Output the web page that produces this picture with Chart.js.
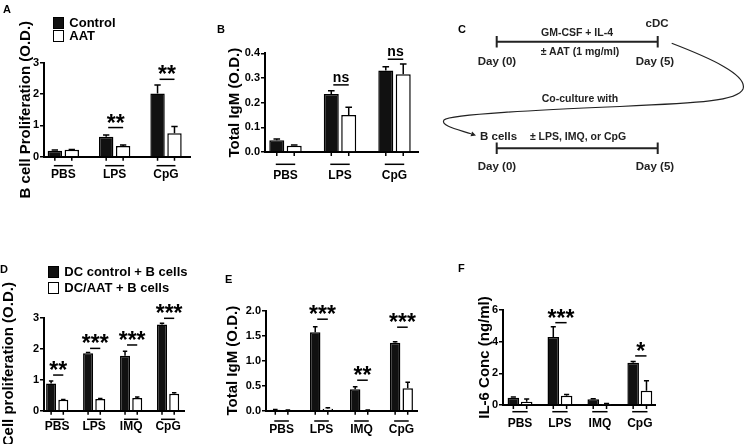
<!DOCTYPE html>
<html>
<head>
<meta charset="utf-8">
<script src="https://cdn.jsdelivr.net/npm/chart.js@4.4.1/dist/chart.umd.min.js"></script>
<style>
  body { margin: 0; background: #fff; }
  #page { position: relative; width: 746px; height: 444px; overflow: hidden; font-family: Arial, 'Liberation Sans', sans-serif; }
  canvas, svg { position: absolute; }
  .key { position: absolute; font-weight: bold; font-size: 13px; line-height: 14px; color: #000; white-space: nowrap; }
  .box { position: absolute; width: 11px; height: 12px; box-sizing: border-box; border: 1.5px solid #000; }
</style>
</head>
<body>
<div id="page">
  <canvas id="chartA" width="215" height="200" style="left:0;top:0"></canvas>
  <canvas id="chartB" width="215" height="200" style="left:215px;top:0"></canvas>
  <canvas id="chartD" width="215" height="189" style="left:0;top:255px"></canvas>
  <canvas id="chartE" width="225" height="189" style="left:215px;top:255px"></canvas>
  <canvas id="chartF" width="301" height="189" style="left:445px;top:255px"></canvas>

  <svg width="746" height="444" style="left:0;top:0" font-family="Arial, 'Liberation Sans', sans-serif" font-weight="bold">
    <g fill="#000" font-size="11" dominant-baseline="central">
      <text x="3" y="9">A</text>
      <text x="217" y="29">B</text>
      <text x="458" y="29">C</text>
      <text x="0" y="269">D</text>
      <text x="225" y="279">E</text>
      <text x="458" y="268">F</text>
    </g>
    <!-- panel C: protocol sketch -->
    <g stroke="#222" stroke-width="2" fill="none">
      <path d="M496.7,41.7 H657.7 M496.7,36 V47.5 M657.7,36 V47.5"/>
      <path d="M496.7,148.3 H657.7 M496.7,142.5 V154 M657.7,142.5 V154"/>
      <path stroke-width="1.2" d="M671.7,43.3 C710,58 748,75 743,89 C738,101 700,103 620,106.5 C540,110 450,114 444,120 C440,126 460,130 471,133.8"/>
    </g>
    <path d="M476,135.5 L472.1,131.5 L470.5,136.3 Z" fill="#222"/>
    <g fill="#222" text-anchor="middle" dominant-baseline="central">
      <text x="577" y="31.7" font-size="10.5">GM-CSF + IL-4</text>
      <text x="580" y="50.7" font-size="10.5">± AAT (1 mg/ml)</text>
      <text x="657" y="23.3" font-size="11.5">cDC</text>
      <text x="497" y="61" font-size="11.5">Day (0)</text>
      <text x="655" y="61" font-size="11.5">Day (5)</text>
      <text x="580" y="98.3" font-size="10.5">Co-culture with</text>
      <text x="578" y="136" font-size="10.5">± LPS, IMQ, or CpG</text>
      <text x="497" y="165.7" font-size="11.5">Day (0)</text>
      <text x="655" y="165.7" font-size="11.5">Day (5)</text>
      <text x="480" y="136" font-size="11.5" text-anchor="start">B cells</text>
    </g>
  </svg>
</div>

<script>
// ---- data ----
const groupsA = ['PBS', 'LPS', 'CpG'];
const seriesA = ['Control', 'AAT'];
const controlA = [0.19, 0.64, 2.02];
const controlErrA = [0.02, 0.05, 0.27];
const aatA = [0.22, 0.34, 0.75];
const aatErrA = [0.01, 0.03, 0.21];
const starsA = ['', '**', '**'];
const starAtA = [null, 0.93, 2.47];

const groupsB = ['PBS', 'LPS', 'CpG'];
const controlB = [0.048, 0.235, 0.33];
const controlErrB = [0.005, 0.013, 0.015];
const aatB = [0.025, 0.15, 0.315];
const aatErrB = [0.003, 0.031, 0.042];
const starsB = ['', 'ns', 'ns'];
const starAtB = [null, 0.272, 0.376];

const groupsD = ['PBS', 'LPS', 'IMQ', 'CpG'];
const seriesD = ['DC control + B cells', 'DC/AAT + B cells'];
const controlD = [0.88, 1.85, 1.77, 2.78];
const controlErrD = [0.08, 0.03, 0.15, 0.04];
const aatD = [0.35, 0.38, 0.41, 0.55];
const aatErrD = [0.01, 0.01, 0.03, 0.03];
const starsD = ['**', '***', '***', '***'];
const starAtD = [1.15, 2.01, 2.12, 2.98];

const groupsE = ['PBS', 'LPS', 'IMQ', 'CpG'];
const controlE = [0.02, 1.57, 0.43, 1.36];
const controlErrE = [0.005, 0.11, 0.05, 0.02];
const aatE = [0.01, 0.04, 0.01, 0.45];
const aatErrE = [0.003, 0.02, 0.003, 0.12];
const starsE = ['', '***', '**', '***'];
const starAtE = [null, 1.83, 0.61, 1.67];

const groupsF = ['PBS', 'LPS', 'IMQ', 'CpG'];
const controlF = [0.46, 4.3, 0.36, 2.67];
const controlErrF = [0.05, 0.65, 0.04, 0.08];
const aatF = [0.21, 0.59, 0.07, 0.9];
const aatErrF = [0.17, 0.07, 0.02, 0.63];
const starsF = ['', '***', '', '*'];
const starAtF = [null, 5.2, null, 3.1];

const FONT = "Arial, 'Liberation Sans', sans-serif";

// error bars, tick marks under bars, group underlines and significance bars
const marks = {
  id: 'marks',
  afterDatasetsDraw(chart, args, o) {
    const ctx = chart.ctx;
    const ys = chart.scales.y;
    const m0 = chart.getDatasetMeta(0).data;
    const m1 = chart.getDatasetMeta(1).data;
    ctx.save();
    ctx.strokeStyle = '#000';
    ctx.fillStyle = '#000';
    ctx.lineWidth = 1.5;
    chart.data.datasets.forEach((ds, d) => {
      chart.getDatasetMeta(d).data.forEach((bar, i) => {
        const top = ys.getPixelForValue(ds.data[i] + o.errors[d][i]);
        const cap = bar.width * 0.22;
        ctx.beginPath();
        ctx.moveTo(bar.x, bar.y);
        ctx.lineTo(bar.x, top);
        ctx.moveTo(bar.x - cap, top);
        ctx.lineTo(bar.x + cap, top);
        ctx.moveTo(bar.x, ys.bottom);
        ctx.lineTo(bar.x, ys.bottom + 4);
        ctx.stroke();
      });
    });
    ctx.textAlign = 'center';
    ctx.textBaseline = 'alphabetic';
    m0.forEach((bar, i) => {
      const a = bar.x, b = m1[i].x;
      const uy = ys.bottom + o.under;
      ctx.beginPath();
      ctx.moveTo(a - 1, uy);
      ctx.lineTo(b + 1, uy);
      ctx.stroke();
      if (!o.stars[i]) return;
      const sy = ys.getPixelForValue(o.starAt[i]);
      ctx.beginPath();
      ctx.moveTo(a + 2, sy);
      ctx.lineTo(b, sy);
      ctx.stroke();
      const ns = o.stars[i] === 'ns';
      ctx.font = ns ? `bold 14px ${FONT}` : `bold 23px ${FONT}`;
      ctx.fillText(o.stars[i], (a + b) / 2 + 1, ns ? sy - 3 : sy + 3);
    });
    ctx.restore();
  }
};

function barChart(id, p, box) {
  const canvas = document.getElementById(id);
  return new Chart(canvas, {
    type: 'bar',
    data: {
      labels: p.groups.map((g, i) => i),
      datasets: [
        { label: p.series ? p.series[0] : '', data: p.control, backgroundColor: '#111', borderColor: '#000',
          borderWidth: 1.5, categoryPercentage: box.catPct, barPercentage: box.barPct },
        { label: p.series ? p.series[1] : '', data: p.aat, backgroundColor: '#fff', borderColor: '#000',
          borderWidth: 1.5, categoryPercentage: box.catPct, barPercentage: box.barPct }
      ]
    },
    options: {
      responsive: false,
      animation: false,
      devicePixelRatio: 1,
      layout: { padding: { left: box.padLeft, top: box.T, right: canvas.width - box.R, bottom: 0 } },
      plugins: {
        legend: { display: false },
        tooltip: { enabled: false },
        marks: { errors: [p.controlErr, p.aatErr], stars: p.stars, starAt: p.starAt, under: box.under }
      },
      scales: {
        x: {
          type: 'linear', min: box.xMin, max: box.xMax, offset: false, z: 1,
          afterBuildTicks: s => { s.ticks = p.groups.map((g, i) => ({ value: i })); },
          afterFit: s => { s.height = canvas.height - box.B; },
          grid: { display: false, drawTicks: false, offset: false },
          border: { color: '#000', width: 2 },
          ticks: {
            color: '#000', autoSkip: false, maxRotation: 0, padding: box.labelPad,
            font: { family: FONT, size: 12, weight: 'bold' },
            callback: (v, i) => p.groups[i]
          }
        },
        y: {
          min: 0, max: p.yMax,
          afterFit: s => { s.width = box.L - box.padLeft; },
          border: { color: '#000', width: 2 },
          grid: { drawOnChartArea: false, color: '#000', lineWidth: 1.5, tickLength: 4 },
          ticks: {
            stepSize: p.yStep, padding: 1, color: '#000',
            font: { family: FONT, size: 11, weight: 'bold' },
            callback: v => v.toFixed(p.dec)
          },
          title: { display: true, text: p.title, color: '#000', padding: 0,
                   font: { family: FONT, size: 15, weight: 'bold' } }
        }
      }
    },
    plugins: [marks]
  });
}

function legend(labels, x, y, gap) {
  const page = document.getElementById('page');
  labels.forEach((text, i) => {
    const box = document.createElement('div');
    box.className = 'box';
    box.style.left = x + 'px';
    box.style.top = (y + i * gap - 6) + 'px';
    box.style.background = i === 0 ? '#111' : '#fff';
    page.appendChild(box);
    const t = document.createElement('div');
    t.className = 'key';
    t.textContent = text;
    t.style.left = (x + 16) + 'px';
    t.style.top = (y + i * gap - 7) + 'px';
    page.appendChild(t);
  });
}

barChart('chartA', {
  groups: groupsA, series: seriesA, control: controlA, aat: aatA, controlErr: controlErrA, aatErr: aatErrA,
  stars: starsA, starAt: starAtA, yMax: 3, yStep: 1, dec: 0, title: 'B cell Proliferation (O.D.)'
}, { L: 44, R: 190, T: 62.7, B: 156.7, padLeft: 17, xMin: -0.376, xMax: 2.467, catPct: 0.66, barPct: 0.85, labelPad: 11, under: 9 });

barChart('chartB', {
  groups: groupsB, control: controlB, aat: aatB, controlErr: controlErrB, aatErr: aatErrB,
  stars: starsB, starAt: starAtB, yMax: 0.4, yStep: 0.1, dec: 1, title: 'Total IgM (O.D.)'
}, { L: 50, R: 203, T: 53.3, B: 152, padLeft: 11, xMin: -0.376, xMax: 2.431, catPct: 0.64, barPct: 0.86, labelPad: 16, under: 12.3 });

barChart('chartD', {
  groups: groupsD, series: seriesD, control: controlD, aat: aatD, controlErr: controlErrD, aatErr: aatErrD,
  stars: starsD, starAt: starAtD, yMax: 3, yStep: 1, dec: 0, title: 'Cell proliferation (O.D.)'
}, { L: 44, R: 184, T: 62.7, B: 155.7, padLeft: 0, xMin: -0.357, xMax: 3.43, catPct: 0.66, barPct: 0.82, labelPad: 9, under: 8.6 });

barChart('chartE', {
  groups: groupsE, control: controlE, aat: aatE, controlErr: controlErrE, aatErr: aatErrE,
  stars: starsE, starAt: starAtE, yMax: 2, yStep: 0.5, dec: 1, title: 'Total IgM (O.D.)'
}, { L: 51, R: 202, T: 55.7, B: 155.7, padLeft: 9, xMin: -0.39, xMax: 3.39, catPct: 0.63, barPct: 0.83, labelPad: 12, under: 10.3 });

barChart('chartF', {
  groups: groupsF, control: controlF, aat: aatF, controlErr: controlErrF, aatErr: aatErrF,
  stars: starsF, starAt: starAtF, yMax: 6, yStep: 2, dec: 0, title: 'IL-6 Conc (ng/ml)'
}, { L: 58, R: 210, T: 55, B: 150, padLeft: 31, xMin: -0.426, xMax: 3.38, catPct: 0.667, barPct: 0.87, labelPad: 11.5, under: 6.7 });

legend(seriesA, 53.3, 23.3, 13);
legend(seriesD, 48.3, 271.7, 16.3);
</script>
</body>
</html>
